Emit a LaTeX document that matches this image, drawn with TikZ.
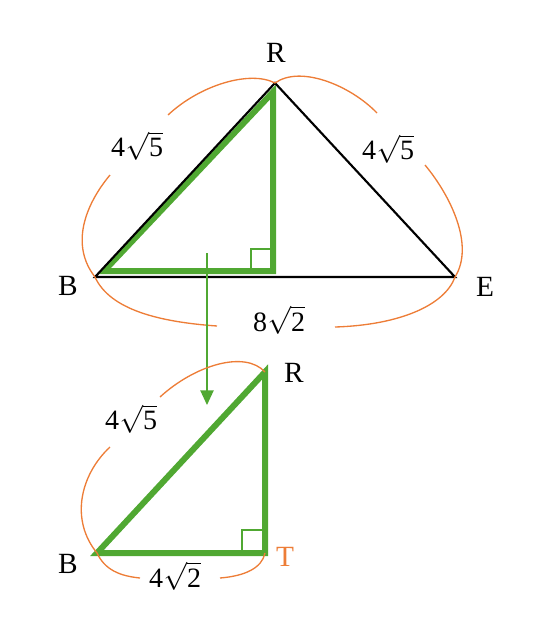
\RequirePackage{fix-cm}
\documentclass[tikz,border=0pt]{standalone}
\usepackage{amsmath}
\usepackage{fontspec}
\setmainfont{Liberation Serif}
\usetikzlibrary{arrows.meta}
\definecolor{figgreen}{RGB}{80,168,50}
\definecolor{figorange}{RGB}{237,125,55}
\newcommand{\rootlen}[2]{#1\kern0.5pt$\sqrt{\mbox{#2}}$}
\tikzstyle{vlabel} = [font=\fontsize{22}{24}\selectfont, inner sep=0pt]
\tikzstyle{lenlabel} = [font=\fontsize{21}{23}\selectfont, inner sep=0pt]
\tikzstyle{side} = [draw=black, line width=1.6pt]
\tikzstyle{greenside} = [draw=figgreen, line width=4.5pt, line join=miter]
\tikzstyle{rightmark} = [draw=figgreen, line width=1.4pt]
\tikzstyle{brace} = [draw=figorange, line width=1pt]
\tikzstyle{movearrow} = [draw=figgreen, fill=figgreen, line width=1pt, -{Triangle[length=11pt,width=10pt]}]

\begin{document}
\begin{tikzpicture}[x=0.75pt, y=-0.75pt]
    \useasboundingbox (0,0) rectangle (540,640);

    % upper triangle BRE
    \coordinate (B1) at (95,277);
    \coordinate (R1) at (275,83);
    \coordinate (E1) at (455,277);
    \coordinate (T1) at (273,271);

    % lower triangle BRT
    \coordinate (B2) at (97,553);
    \coordinate (R2) at (265,372);
    \coordinate (T2) at (265,553);

    % green half inside the upper triangle
    \draw[greenside] (104,271) -- (273,92) -- (T1) -- cycle;
    \draw[rightmark] (T1) ++(-22,0) -- ++(0,-22) -- ++(22,0);
    \draw[side] (B1) -- (R1) -- (E1) -- cycle;

    \node(labR1)[vlabel] at (276,53) {R};
    \node(labB1)[vlabel] at (68,286) {B};
    \node(labE1)[vlabel] at (485,287) {E};

    % length marks of the upper triangle
    \draw[brace] (B1) .. controls (70,245) and (85,205) .. (110,175);
    \draw[brace] (168,115) .. controls (200,85) and (250,70) .. (R1);
    \draw[brace] (R1) .. controls (300,65) and (350,85) .. (377,113);
    \draw[brace] (425,165) .. controls (450,195) and (475,245) .. (E1);
    \draw[brace] (B1) .. controls (110,310) and (160,322) .. (217,326);
    \draw[brace] (335,327) .. controls (400,325) and (445,305) .. (E1);

    \node(lenBR1)[lenlabel] at (137,146) {\rootlen{4}{5}};
    \node(lenRE1)[lenlabel] at (388,149) {\rootlen{4}{5}};
    \node(lenBE1)[lenlabel] at (279,320) {\rootlen{8}{2}};

    % move the half down
    \coordinate (movefrom) at (207,253);
    \coordinate (moveto) at (207,405);
    \draw[movearrow] (movefrom) -- (moveto);

    % lower triangle
    \draw[greenside] (B2) -- (R2) -- (T2) -- cycle;
    \draw[rightmark] (T2) ++(-23,0) -- ++(0,-23) -- ++(23,0);

    \node(labR2)[vlabel] at (294,373) {R};
    \node(labB2)[vlabel] at (68,564) {B};
    \node(labT2)[vlabel, text=figorange] at (285,557) {T};

    \draw[brace] (B2) .. controls (70,520) and (80,475) .. (110,447);
    \draw[brace] (160,397) .. controls (195,365) and (245,350) .. (R2);
    \draw[brace] (B2) .. controls (105,570) and (120,576) .. (140,578);
    \draw[brace] (220,578) .. controls (245,576) and (262,568) .. (T2);

    \node(lenBR2)[lenlabel] at (131,419) {\rootlen{4}{5}};
    \node(lenBT2)[lenlabel] at (175,576) {\rootlen{4}{2}};

\end{tikzpicture}
\end{document}
